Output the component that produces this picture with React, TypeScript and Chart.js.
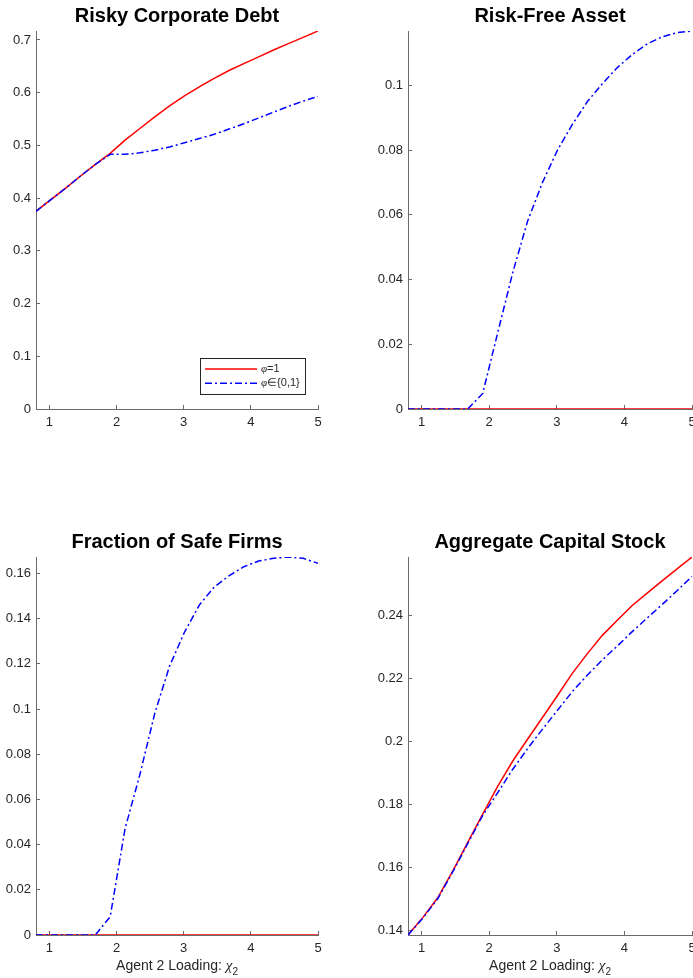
import React, { useEffect, useRef } from 'react';
import { Chart, registerables } from 'chart.js';

Chart.register(...registerables);

// ---------------- data ----------------
const xGrid = [0.8, 1.021, 1.242, 1.463, 1.684, 1.905, 2.126, 2.347, 2.568, 2.789, 3.011, 3.232, 3.453, 3.674, 3.895, 4.116, 4.337, 4.558, 4.779, 5.0];
const xTicks = [1, 2, 3, 4, 5];

const seriesSymbols = ['φ', 'φ'];
const seriesRest = ['=1', '∈{0,1}'];

// Risky Corporate Debt
const debtPhi1 = [0.375, 0.397, 0.419, 0.442, 0.464, 0.485, 0.510, 0.532, 0.554, 0.575, 0.594, 0.611, 0.627, 0.642, 0.655, 0.668, 0.681, 0.693, 0.705, 0.717];
const debtPhi01 = [0.375, 0.397, 0.419, 0.442, 0.464, 0.483, 0.483, 0.486, 0.491, 0.497, 0.505, 0.513, 0.521, 0.531, 0.541, 0.552, 0.563, 0.574, 0.584, 0.593];
const debtTicks = [0, 0.1, 0.2, 0.3, 0.4, 0.5, 0.6, 0.7];

// Risk-Free Asset
const riskFreePhi1 = [0, 0, 0, 0, 0, 0, 0, 0, 0, 0, 0, 0, 0, 0, 0, 0, 0, 0, 0, 0];
const riskFreePhi01 = [0, 0, 0, 0, 0, 0.0048, 0.0235, 0.042, 0.058, 0.070, 0.080, 0.088, 0.095, 0.1005, 0.1055, 0.1095, 0.1128, 0.1150, 0.1163, 0.1168];
const riskFreeTicks = [0, 0.02, 0.04, 0.06, 0.08, 0.1];

// Fraction of Safe Firms
const safePhi1 = [0, 0, 0, 0, 0, 0, 0, 0, 0, 0, 0, 0, 0, 0, 0, 0, 0, 0, 0, 0];
const safePhi01 = [0, 0, 0, 0, 0, 0.0081, 0.047, 0.071, 0.098, 0.119, 0.134, 0.146, 0.154, 0.159, 0.163, 0.1655, 0.1667, 0.1673, 0.1667, 0.1645];
const safeTicks = [0, 0.02, 0.04, 0.06, 0.08, 0.1, 0.12, 0.14, 0.16];

// Aggregate Capital Stock
const capitalPhi1 = [0.1386, 0.1442, 0.1505, 0.1590, 0.1680, 0.1770, 0.1858, 0.1938, 0.2008, 0.2077, 0.2147, 0.2218, 0.2280, 0.2338, 0.2386, 0.2433, 0.2472, 0.2511, 0.2549, 0.2587];
const capitalPhi01 = [0.1386, 0.1440, 0.1502, 0.1587, 0.1677, 0.1766, 0.1838, 0.1912, 0.1978, 0.2040, 0.2100, 0.2160, 0.2212, 0.2260, 0.2304, 0.2350, 0.2393, 0.2436, 0.2480, 0.2525];
const capitalTicks = [0.14, 0.16, 0.18, 0.2, 0.22, 0.24];

const xLabelMain = 'Agent 2 Loading: ';
const xLabelSymbol = 'χ';
const xLabelSub = '2';

// ---------------- styles ----------------
const FONT = "'Liberation Sans', Arial, Helvetica, sans-serif";
const SERIF = "'Liberation Serif', 'DejaVu Serif', serif";
const RED = '#ff0000';
const BLUE = '#0000ff';
const AXIS_LINE = '#6b6b6b';
const TEXT = '#262626';

type PanelSpec = {
  title: string;
  left: number;
  top: number;
  width: number;
  height: number;
  yAxisWidth: number;
  padRight: number;
  titlePadTop: number;
  titlePadBottom: number;
  xAxisHeight: number;
  red: number[];
  blue: number[];
  yTicks: number[];
  yMin: number;
  yMax: number;
  legend: boolean;
  xLabel: boolean;
};

function makeLegendPlugin(show: boolean) {
  return {
    id: 'boxLegend',
    afterDraw(chart: any) {
      if (!show) return;
      const { ctx, chartArea } = chart;
      const w = 105;
      const h = 36;
      const x0 = Math.round(chartArea.right - 13 - w);
      const y0 = Math.round(chartArea.bottom - 15 - h);
      ctx.save();
      ctx.fillStyle = '#ffffff';
      ctx.fillRect(x0, y0, w, h);
      ctx.strokeStyle = '#262626';
      ctx.lineWidth = 1;
      ctx.setLineDash([]);
      ctx.strokeRect(x0 + 0.5, y0 + 0.5, w, h);
      chart.data.datasets.forEach((ds: any, i: number) => {
        const y = y0 + 11 + i * 14.3;
        ctx.strokeStyle = ds.borderColor;
        ctx.lineWidth = ds.borderWidth;
        ctx.setLineDash(ds.borderDash || []);
        ctx.beginPath();
        ctx.moveTo(x0 + 5, y);
        ctx.lineTo(x0 + 57, y);
        ctx.stroke();
        ctx.setLineDash([]);
        ctx.fillStyle = TEXT;
        ctx.textBaseline = 'middle';
        ctx.textAlign = 'left';
        ctx.font = `italic 11px ${SERIF}`;
        const sym = seriesSymbols[i];
        ctx.fillText(sym, x0 + 61, y);
        const sw = ctx.measureText(sym).width;
        ctx.font = `11px ${FONT}`;
        ctx.fillText(seriesRest[i], x0 + 61 + sw, y);
      });
      ctx.restore();
    },
  };
}

function makeXLabelPlugin(show: boolean) {
  return {
    id: 'richXLabel',
    afterDraw(chart: any) {
      if (!show) return;
      const { ctx, chartArea } = chart;
      const parts = [
        { text: xLabelMain, font: `14px ${FONT}`, dy: 0 },
        { text: xLabelSymbol, font: `italic 15px ${SERIF}`, dy: 0 },
        { text: xLabelSub, font: `10px ${FONT}`, dy: 5 },
      ];
      ctx.save();
      ctx.fillStyle = TEXT;
      ctx.textBaseline = 'alphabetic';
      ctx.textAlign = 'left';
      let total = 0;
      const widths = parts.map((p) => {
        ctx.font = p.font;
        const w = ctx.measureText(p.text).width;
        total += w;
        return w;
      });
      let x = (chartArea.left + chartArea.right) / 2 - total / 2;
      const y = chartArea.bottom + 35;
      parts.forEach((p, i) => {
        ctx.font = p.font;
        ctx.fillText(p.text, x, y + p.dy);
        x += widths[i];
      });
      ctx.restore();
    },
  };
}

function fmt(v: number) {
  return String(+Number(v).toFixed(3));
}

function buildConfig(p: PanelSpec): any {
  return {
    type: 'line',
    data: {
      datasets: [
        {
          label: seriesSymbols[0] + seriesRest[0],
          data: xGrid.map((x, i) => ({ x, y: p.red[i] })),
          borderColor: RED,
          backgroundColor: RED,
          borderWidth: 1.5,
          pointRadius: 0,
          tension: 0,
          fill: false,
          order: 2,
        },
        {
          label: seriesSymbols[1] + seriesRest[1],
          data: xGrid.map((x, i) => ({ x, y: p.blue[i] })),
          borderColor: BLUE,
          backgroundColor: BLUE,
          borderWidth: 1.5,
          borderDash: [7, 3, 2, 3],
          pointRadius: 0,
          tension: 0,
          fill: false,
          order: 1,
        },
      ],
    },
    options: {
      responsive: false,
      animation: false,
      devicePixelRatio: 1,
      events: [],
      layout: { padding: { left: 0, right: p.padRight, top: 0, bottom: 0 } },
      plugins: {
        legend: { display: false },
        tooltip: { enabled: false },
        title: {
          display: true,
          text: p.title,
          fullSize: false,
          color: '#000000',
          font: { family: FONT, size: 20, weight: 'bold', lineHeight: 1.2 },
          padding: { top: p.titlePadTop, bottom: p.titlePadBottom },
        },
      },
      scales: {
        x: {
          type: 'linear',
          position: 'bottom',
          min: xGrid[0],
          max: xGrid[xGrid.length - 1],
          afterBuildTicks: (s: any) => {
            s.ticks = xTicks.map((v) => ({ value: v }));
          },
          afterFit: (s: any) => {
            s.height = p.xAxisHeight;
            s.paddingLeft = 0;
            s.paddingRight = 0;
          },
          ticks: {
            autoSkip: false,
            maxRotation: 0,
            color: TEXT,
            font: { family: FONT, size: 13 },
            padding: 10,
            callback: (v: any) => fmt(v),
          },
          grid: { display: true, drawOnChartArea: false, drawTicks: true, tickLength: -4, color: AXIS_LINE, lineWidth: 1 },
          border: { display: true, color: AXIS_LINE, width: 1 },
        },
        y: {
          type: 'linear',
          position: 'left',
          min: p.yMin,
          max: p.yMax,
          afterBuildTicks: (s: any) => {
            s.ticks = p.yTicks.map((v) => ({ value: v }));
          },
          afterFit: (s: any) => {
            s.width = p.yAxisWidth;
            s.paddingTop = 0;
            s.paddingBottom = 0;
          },
          ticks: {
            autoSkip: false,
            color: TEXT,
            font: { family: FONT, size: 13 },
            padding: 9,
            callback: (v: any) => fmt(v),
          },
          grid: { display: true, drawOnChartArea: false, drawTicks: true, tickLength: -4, color: AXIS_LINE, lineWidth: 1 },
          border: { display: true, color: AXIS_LINE, width: 1 },
        },
      },
    },
    plugins: [makeLegendPlugin(p.legend), makeXLabelPlugin(p.xLabel)],
  };
}

function Panel({ spec }: { spec: PanelSpec }) {
  const ref = useRef<HTMLCanvasElement>(null);
  useEffect(() => {
    if (!ref.current) return;
    const chart = new Chart(ref.current, buildConfig(spec));
    return () => chart.destroy();
  }, [spec]);
  return (
    <canvas
      ref={ref}
      width={spec.width}
      height={spec.height}
      style={{ position: 'absolute', left: spec.left, top: spec.top, width: spec.width, height: spec.height }}
    />
  );
}

const dataMax = (a: number[], b: number[]) => Math.max(...a, ...b);
const dataMin = (a: number[], b: number[]) => Math.min(...a, ...b);

const panels: PanelSpec[] = [
  {
    title: 'Risky Corporate Debt',
    left: 0, top: 0, width: 346, height: 489,
    yAxisWidth: 36, padRight: 28, titlePadTop: 4, titlePadBottom: 3, xAxisHeight: 80,
    red: debtPhi1, blue: debtPhi01, yTicks: debtTicks,
    yMin: 0, yMax: dataMax(debtPhi1, debtPhi01),
    legend: true, xLabel: false,
  },
  {
    title: 'Risk-Free Asset',
    left: 346, top: 0, width: 347, height: 489,
    yAxisWidth: 62, padRight: 1, titlePadTop: 4, titlePadBottom: 3, xAxisHeight: 80,
    red: riskFreePhi1, blue: riskFreePhi01, yTicks: riskFreeTicks,
    yMin: 0, yMax: dataMax(riskFreePhi1, riskFreePhi01),
    legend: false, xLabel: false,
  },
  {
    title: 'Fraction of Safe Firms',
    left: 0, top: 489, width: 346, height: 489,
    yAxisWidth: 36, padRight: 28, titlePadTop: 41, titlePadBottom: 3, xAxisHeight: 43,
    red: safePhi1, blue: safePhi01, yTicks: safeTicks,
    yMin: 0, yMax: dataMax(safePhi1, safePhi01),
    legend: false, xLabel: true,
  },
  {
    title: 'Aggregate Capital Stock',
    left: 346, top: 489, width: 347, height: 489,
    yAxisWidth: 62, padRight: 1, titlePadTop: 41, titlePadBottom: 3, xAxisHeight: 43,
    red: capitalPhi1, blue: capitalPhi01, yTicks: capitalTicks,
    yMin: dataMin(capitalPhi1, capitalPhi01), yMax: dataMax(capitalPhi1, capitalPhi01),
    legend: false, xLabel: true,
  },
];

export default function App() {
  return (
    <div style={{ position: 'absolute', left: 0, top: 0, width: 693, height: 978, overflow: 'hidden', background: '#ffffff' }}>
      {panels.map((p) => (
        <Panel key={p.title} spec={p} />
      ))}
    </div>
  );
}
